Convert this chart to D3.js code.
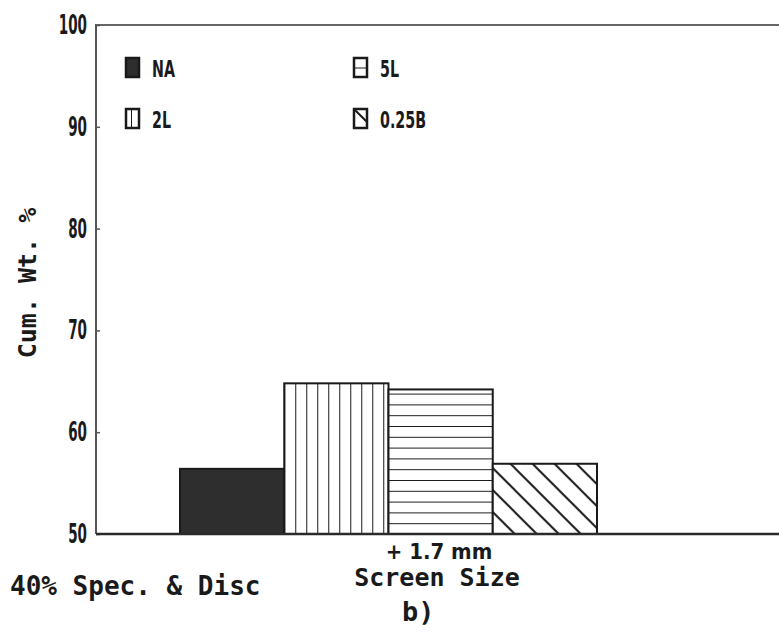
<!DOCTYPE html>
<html>
<head>
<meta charset="utf-8">
<script src="https://cdn.jsdelivr.net/npm/d3@7"></script>
<style>
  html, body { margin: 0; padding: 0; background: #fff; }
  svg { display: block; }
</style>
</head>
<body>
<svg id="chart" width="779" height="633"></svg>
<script>
// Cumulative weight % retained at the +1.7 mm screen, 40% Spec. & Disc
const categories = ["NA", "2L", "5L", "0.25B"];
const values = [56.4, 64.8, 64.2, 56.9];
const fills = ["solid", "vertical", "horizontal", "diagonal"];
const yTicks = [50, 60, 70, 80, 90, 100];
const legendOrder = [["NA", "2L"], ["5L", "0.25B"]];

const svg = d3.select("#chart");
const ink = "#1a1a1a";
const sans = "'DejaVu Sans', sans-serif";
const mono = "'DejaVu Sans Mono', monospace";

const plot = { left: 96, right: 779, top: 25, bottom: 534 };

const y = d3.scaleLinear().domain([50, 100]).range([plot.bottom, plot.top]);
const x = d3.scaleBand().domain(categories).range([180, 597]).padding(0);

const defs = svg.append("defs");

// hatch pattern anchored at a given origin
function hatch(id, kind, ox, oy) {
  const step = kind === "vertical" ? 11 : kind === "horizontal" ? 10.8 : 22;
  const p = defs.append("pattern")
    .attr("id", id)
    .attr("patternUnits", "userSpaceOnUse")
    .attr("x", ox).attr("y", oy)
    .attr("width", step).attr("height", step);
  p.append("rect").attr("width", step).attr("height", step).attr("fill", "#fff");
  const line = p.append("path").attr("stroke", ink).attr("stroke-width", 2).attr("fill", "none");
  if (kind === "vertical") line.attr("d", `M0,0V${step}`);
  else if (kind === "horizontal") line.attr("d", `M0,0H${step}`);
  else line.attr("d", `M0,0L${step},${step}M${-step},0L${step},${2 * step}M0,${-step}L${2 * step},${step}`);
  return `url(#${id})`;
}

function fillFor(kind, id, ox, oy) {
  return kind === "solid" ? "#2e2e2e" : hatch(id, kind, ox, oy);
}

// tall, condensed plotter-style lettering
function narrowText(g, tx, ty, str, size, sx, anchor) {
  return g.append("text")
    .attr("transform", `translate(${tx},${ty}) scale(${sx},1)`)
    .attr("text-anchor", anchor || "start")
    .attr("font-family", sans)
    .attr("font-weight", "bold")
    .attr("font-size", size)
    .attr("fill", ink)
    .text(str);
}

// frame: left axis and top rule
svg.append("line")
  .attr("x1", plot.left).attr("x2", plot.left)
  .attr("y1", plot.top - 1).attr("y2", plot.bottom)
  .attr("stroke", "#555").attr("stroke-width", 2);
svg.append("line")
  .attr("x1", plot.left).attr("x2", plot.right)
  .attr("y1", plot.top).attr("y2", plot.top)
  .attr("stroke", "#666").attr("stroke-width", 2);

// y axis: small inward ticks, labels on the left
const yAxis = d3.axisRight(y).tickValues(yTicks).tickSize(4).tickFormat("");
const ya = svg.append("g").attr("transform", `translate(${plot.left},0)`).call(yAxis);
ya.select(".domain").remove();
ya.selectAll(".tick line").attr("stroke", "#555").attr("stroke-width", 1.5);

const tickLabels = svg.append("g");
yTicks.forEach(t => narrowText(tickLabels, 87, y(t) + 9, String(t), 26, 0.52, "end"));

// bars
const bars = categories.map((c, i) => ({ c, v: values[i], kind: fills[i], i }));
svg.append("g").selectAll("rect")
  .data(bars)
  .join("rect")
  .attr("x", d => x(d.c))
  .attr("y", d => y(d.v))
  .attr("width", x.bandwidth())
  .attr("height", d => y(50) - y(d.v))
  .attr("fill", d => fillFor(d.kind, "bar" + d.i, x(d.c), y(50)))
  .attr("stroke", ink)
  .attr("stroke-width", 2);

// baseline
svg.append("line")
  .attr("x1", plot.left).attr("x2", plot.right)
  .attr("y1", plot.bottom).attr("y2", plot.bottom)
  .attr("stroke", "#2a2a2a").attr("stroke-width", 2.5);

// legend
const legendX = [126, 354];
const legendY = [58, 109];
const legendG = svg.append("g");
legendOrder.forEach((col, ci) => {
  col.forEach((name, ri) => {
    const k = categories.indexOf(name);
    const lx = legendX[ci], ly = legendY[ri];
    legendG.append("rect")
      .attr("x", lx).attr("y", ly)
      .attr("width", 13).attr("height", 19)
      .attr("fill", fillFor(fills[k], "leg" + k, lx + (fills[k] === "vertical" ? 5 : 0), ly + (fills[k] === "horizontal" ? 9.5 : 0)))
      .attr("stroke", ink).attr("stroke-width", 2.5);
    narrowText(legendG, lx + 26, ly + 19, name, 23, 0.62);
  });
});

// axis titles and captions
svg.append("text")
  .attr("transform", "translate(36,283) rotate(-90)")
  .attr("text-anchor", "middle")
  .attr("font-family", mono)
  .attr("font-weight", "bold")
  .attr("font-size", 25)
  .attr("fill", ink)
  .text("Cum. Wt. %");

narrowText(svg, 439, 559, "+ 1.7 mm", 22, 0.9, "middle");

svg.append("text")
  .attr("x", 437).attr("y", 586)
  .attr("text-anchor", "middle")
  .attr("font-family", mono)
  .attr("font-weight", "bold")
  .attr("font-size", 25)
  .attr("fill", ink)
  .text("Screen Size");

svg.append("text")
  .attr("x", 10).attr("y", 595)
  .attr("font-family", mono)
  .attr("font-weight", "bold")
  .attr("font-size", 26)
  .attr("fill", ink)
  .text("40% Spec. & Disc");

svg.append("text")
  .attr("x", 402).attr("y", 621)
  .attr("font-family", mono)
  .attr("font-weight", "bold")
  .attr("font-size", 27)
  .attr("fill", ink)
  .text("b)");
</script>
</body>
</html>
